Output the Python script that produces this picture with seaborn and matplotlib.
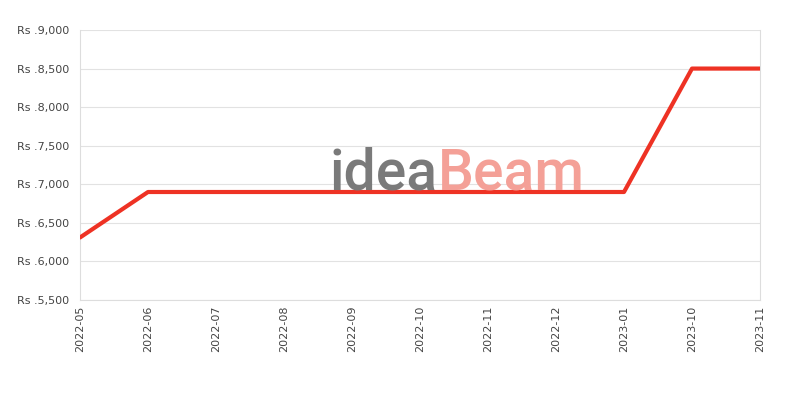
import matplotlib
matplotlib.use("Agg")

import pandas as pd
import seaborn as sns
import matplotlib.pyplot as plt
from matplotlib.ticker import FuncFormatter

# Data
months = ['2022-05', '2022-06', '2022-07', '2022-08', '2022-09', '2022-10',
          '2022-11', '2022-12', '2023-01', '2023-10', '2023-11']
prices = [6310, 6900, 6900, 6900, 6900, 6900, 6900, 6900, 6900, 8500, 8500]
y_ticks = [5500, 6000, 6500, 7000, 7500, 8000, 8500, 9000]

sns.set_style("white")
plt.rcParams['font.family'] = ['DejaVu Sans']

df = pd.DataFrame({'Month': months, 'Price': prices})
df['pos'] = range(len(months))

fig = plt.figure(figsize=(8, 4), dpi=100)
ax = fig.add_axes([0.1, 0.25, 0.85, 0.675])

# watermark (logo text behind the line)
wm_font = ['Roboto', 'Liberation Sans', 'DejaVu Sans']
fig.text(0.547, 0.525, 'idea', fontsize=41, color='#7a7a7a', ha='right', va='baseline',
         family=wm_font, fontweight='medium', zorder=0)
fig.text(0.547, 0.525, 'Beam', fontsize=41, color='#f4a097', ha='left', va='baseline',
         family=wm_font, fontweight='medium', zorder=0)

sns.lineplot(data=df, x='pos', y='Price', ax=ax, color='#ee3224', linewidth=3.0,
             sort=False, zorder=3)

ax.set_xlim(0, len(months) - 1)
ax.set_ylim(5500, 9000)
ax.set_xticks(range(len(months)))
ax.set_xticklabels(months, rotation=90, fontsize=8, color='#444444')
ax.set_yticks(y_ticks)
ax.yaxis.set_major_formatter(FuncFormatter(lambda v, p: 'Rs .{:,.0f}'.format(v)))
ax.tick_params(axis='y', labelsize=8, labelcolor='#444444', length=0, pad=8)
ax.tick_params(axis='x', length=0, pad=4)
ax.set_xlabel('')
ax.set_ylabel('')
ax.grid(axis='y', color='#e2e2e2', linewidth=0.8)
ax.set_axisbelow(True)
ax.patch.set_alpha(0)
for s in ['left', 'bottom', 'right']:
    ax.spines[s].set_color('#dddddd')
    ax.spines[s].set_linewidth(0.8)
ax.spines['top'].set_visible(False)

fig.savefig('out.png', dpi=100)
plt.close(fig)
